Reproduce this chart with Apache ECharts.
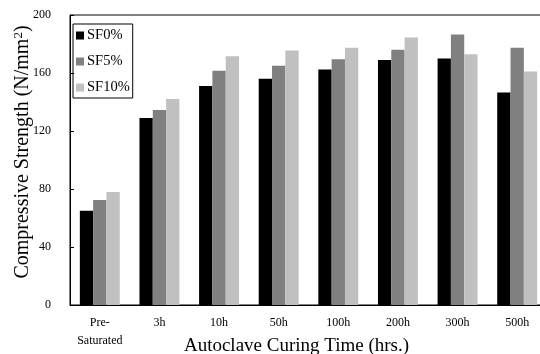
<!DOCTYPE html>
<html><head><meta charset="utf-8">
<script src="https://cdn.jsdelivr.net/npm/echarts@6/dist/echarts.min.js"></script>
<style>html,body{margin:0;padding:0;background:#fff}#c{width:540px;height:354px}</style>
</head><body><div id="c"></div>
<script>
const categories = ['Pre-\nSaturated', '3h', '10h', '50h', '100h', '200h', '300h', '500h'];
const sf0 = [65, 129, 151, 156, 162.5, 169, 170, 146.5];
const sf5 = [72.5, 134.5, 161.5, 165, 169.5, 176, 186.5, 177.5];
const sf10 = [78, 142, 171.5, 175.5, 177.5, 184.5, 173, 161];
const yTicks = { min: 0, max: 200, interval: 40 };
const seriesNames = ['SF0%', 'SF5%', 'SF10%'];
const colors = ['#000000', '#808080', '#c0c0c0'];

const font = '"Liberation Serif", "Times New Roman", serif';
const chart = echarts.init(document.getElementById('c'), null, { renderer: 'canvas' });
const mk = (name, data, i) => ({
  name, type: 'bar', data, barGap: '0%', barCategoryGap: '33%',
  itemStyle: { color: colors[i] }, animation: false
});
chart.setOption({
  animation: false,
  textStyle: { fontFamily: font },
  grid: { left: 70, right: -7, top: 15, bottom: 49, containLabel: false, outerBoundsMode: 'none',
    show: true, borderColor: '#000', borderWidth: 1, backgroundColor: 'transparent' },
  legend: {
    orient: 'vertical', left: 73, top: 24, itemWidth: 8, itemHeight: 8, itemGap: 11,
    padding: [4, 3, 3, 3], borderColor: '#000', borderWidth: 1, icon: 'rect',
    textStyle: { fontFamily: font, fontSize: 14.5, color: '#000', padding: [0, 0, 0, -2] },
    data: seriesNames
  },
  xAxis: {
    type: 'category', data: categories,
    name: 'Autoclave Curing Time (hrs.)', nameLocation: 'middle', nameGap: 32, nameMoveOverlap: false,
    nameTextStyle: { fontFamily: font, fontSize: 19, color: '#000', padding: [0, 24, 0, 0] },
    axisLine: { lineStyle: { color: '#000', width: 1 } },
    axisTick: { inside: true, length: 4, lineStyle: { color: '#000' } },
    axisLabel: { fontFamily: font, fontSize: 12, color: '#000', margin: 9, lineHeight: 18, interval: 0 }
  },
  yAxis: {
    type: 'value', min: yTicks.min, max: yTicks.max, interval: yTicks.interval,
    name: 'Compressive Strength (N/mm{sup|2})', nameLocation: 'middle', nameGap: 37, nameMoveOverlap: false,
    nameTextStyle: { fontFamily: font, fontSize: 20, color: '#000', padding: [0, 0, 0, 16],
      rich: { sup: { fontFamily: font, fontSize: 13, verticalAlign: 'top', padding: [0, 0, 8, 0], color: '#000' } } },
    axisLine: { show: true, lineStyle: { color: '#000', width: 1 } },
    axisTick: { show: true, inside: true, length: 4, lineStyle: { color: '#000' } },
    splitLine: { show: false },
    axisLabel: { fontFamily: font, fontSize: 12, color: '#000', margin: 19 }
  },
  series: [mk(seriesNames[0], sf0, 0), mk(seriesNames[1], sf5, 1), mk(seriesNames[2], sf10, 2)]
});
</script></body></html>
